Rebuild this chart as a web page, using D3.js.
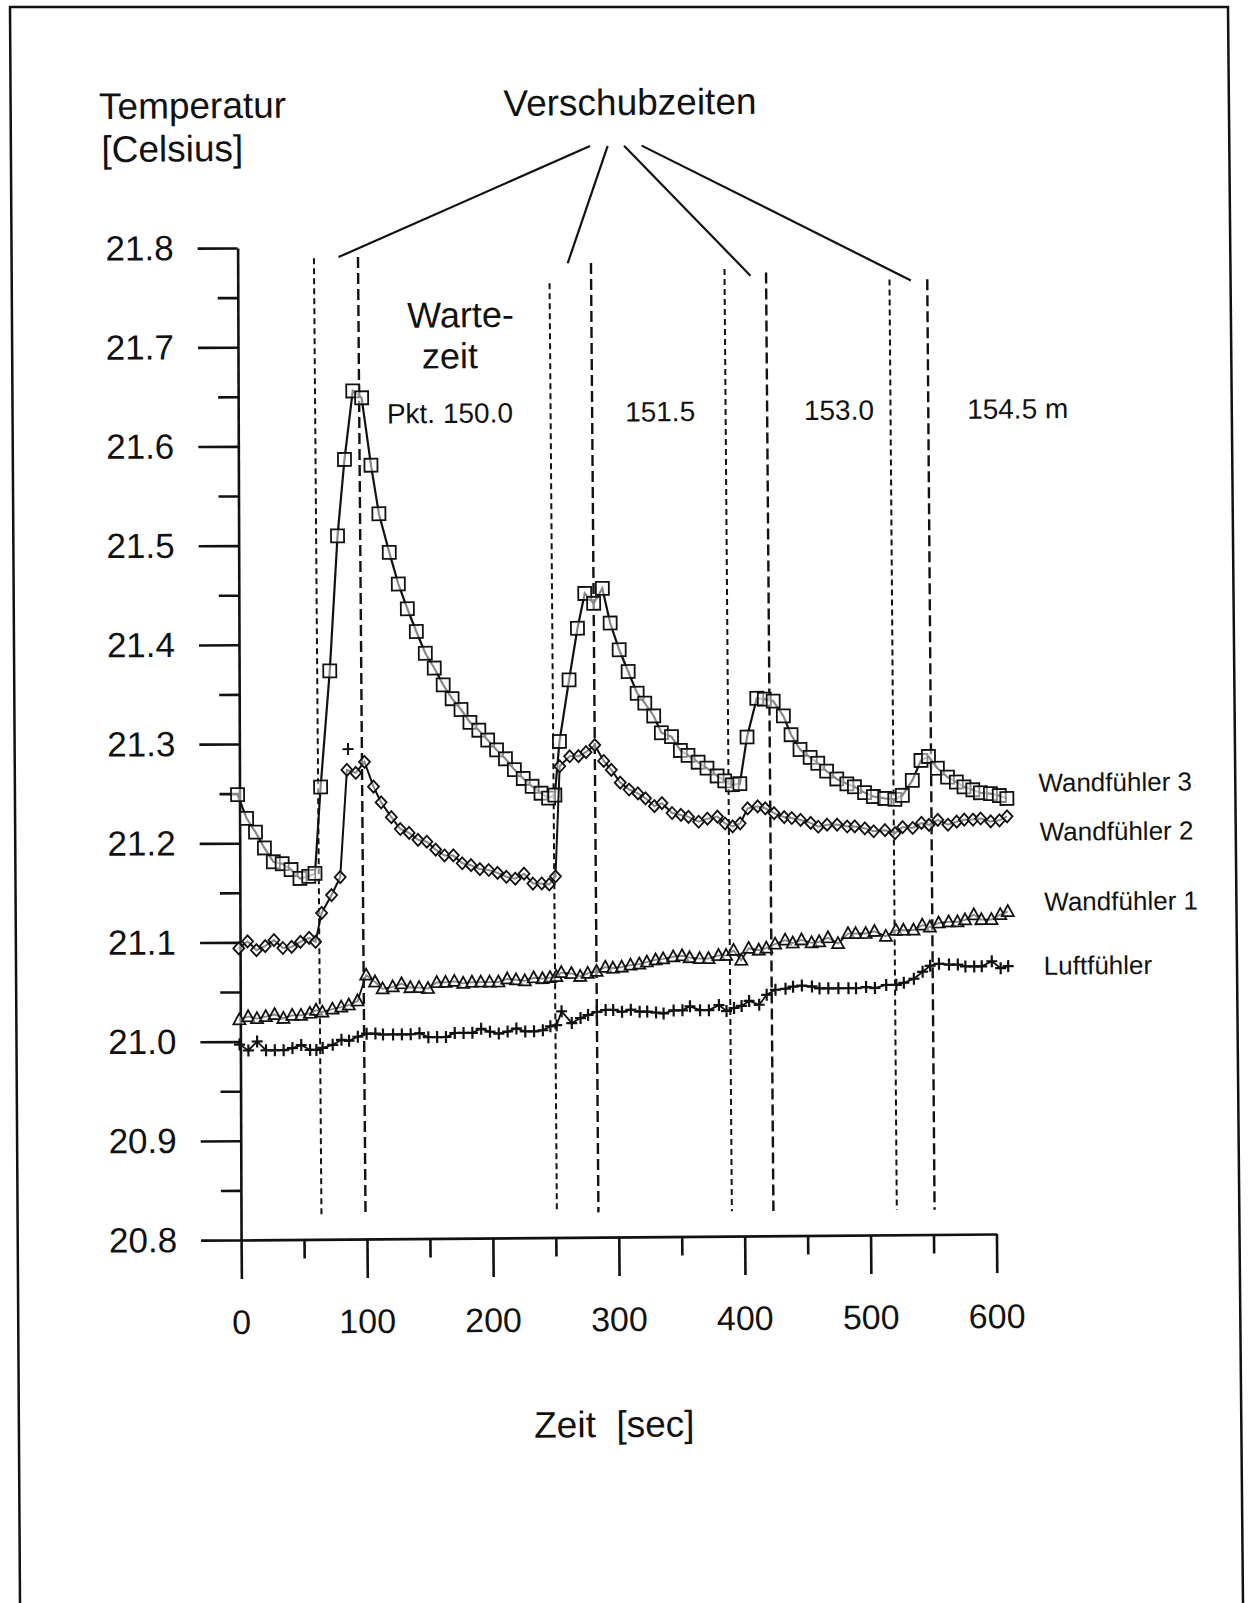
<!DOCTYPE html>
<html><head><meta charset="utf-8">
<script src="https://cdn.jsdelivr.net/npm/d3@7"></script>
<style>
body{margin:0;background:#fff}
svg{display:block}
text{font-family:"Liberation Sans",Arial,Helvetica,sans-serif;fill:#111}
</style>
</head><body>
<svg id="chart" width="1248" height="1603"></svg>
<script>
// ---- data (time in seconds, temperature in degrees Celsius) ----
const times = [0,7,14,21,28,35,42,49,56,61,66,74,81,87,94,101,108,114,122,129,136,143,150,157,164,171,178,185,192,199,206,213,220,227,234,241,247,252,256,264,271,277,284,291,297,304,311,318,324,331,337,345,352,358,366,373,381,387,393,399,405,413,419,426,434,440,447,455,461,468,476,484,490,498,505,514,522,528,536,543,549,556,564,571,577,584,590,598,605,611];

const wand3 = [21.249,21.225,21.211,21.195,21.181,21.179,21.173,21.164,21.166,21.169,21.256,21.373,21.509,21.586,21.655,21.648,21.580,21.531,21.492,21.460,21.435,21.412,21.390,21.375,21.358,21.344,21.333,21.320,21.312,21.302,21.292,21.283,21.272,21.263,21.255,21.248,21.243,21.246,21.300,21.362,21.414,21.449,21.439,21.454,21.419,21.392,21.370,21.348,21.338,21.325,21.308,21.304,21.290,21.285,21.278,21.272,21.264,21.259,21.255,21.256,21.303,21.342,21.341,21.339,21.324,21.305,21.290,21.282,21.276,21.268,21.260,21.255,21.252,21.246,21.242,21.240,21.239,21.243,21.258,21.278,21.282,21.270,21.261,21.256,21.251,21.248,21.245,21.244,21.242,21.239];

const wand2 = [21.094,21.101,21.092,21.096,21.102,21.094,21.095,21.100,21.104,21.100,21.129,21.147,21.165,21.273,21.270,21.281,21.256,21.240,21.225,21.213,21.209,21.202,21.200,21.192,21.186,21.186,21.178,21.176,21.172,21.171,21.168,21.164,21.162,21.167,21.157,21.157,21.156,21.164,21.275,21.285,21.285,21.289,21.296,21.280,21.271,21.258,21.251,21.247,21.242,21.234,21.237,21.227,21.225,21.223,21.218,21.221,21.223,21.216,21.213,21.216,21.231,21.233,21.231,21.226,21.222,21.221,21.219,21.216,21.212,21.214,21.214,21.212,21.212,21.210,21.207,21.208,21.205,21.211,21.210,21.215,21.213,21.218,21.213,21.216,21.218,21.218,21.219,21.216,21.217,21.221];

const wand1 = [21.022,21.025,21.023,21.025,21.027,21.023,21.026,21.026,21.028,21.031,21.029,21.032,21.034,21.036,21.040,21.066,21.059,21.052,21.054,21.057,21.053,21.053,21.052,21.058,21.058,21.059,21.057,21.058,21.058,21.058,21.058,21.061,21.060,21.059,21.062,21.061,21.062,21.063,21.067,21.066,21.063,21.066,21.068,21.072,21.071,21.072,21.074,21.075,21.077,21.079,21.080,21.082,21.083,21.081,21.080,21.080,21.083,21.083,21.088,21.078,21.090,21.088,21.090,21.094,21.098,21.095,21.098,21.095,21.096,21.100,21.094,21.104,21.104,21.104,21.106,21.101,21.107,21.107,21.107,21.112,21.110,21.114,21.115,21.115,21.117,21.122,21.117,21.117,21.122,21.125];

const luft = [20.997,20.991,21.000,20.991,20.991,20.991,20.993,20.996,20.991,20.991,20.993,20.996,21.001,21.000,21.004,21.007,21.007,21.006,21.006,21.006,21.006,21.007,21.003,21.003,21.003,21.007,21.007,21.007,21.011,21.008,21.006,21.008,21.011,21.008,21.008,21.009,21.013,21.014,21.028,21.016,21.021,21.024,21.027,21.029,21.029,21.027,21.029,21.027,21.027,21.026,21.025,21.028,21.028,21.032,21.028,21.028,21.033,21.027,21.030,21.032,21.037,21.033,21.043,21.048,21.049,21.051,21.052,21.051,21.049,21.049,21.049,21.049,21.049,21.050,21.049,21.052,21.052,21.054,21.058,21.065,21.071,21.073,21.072,21.072,21.070,21.070,21.070,21.075,21.068,21.070];

// isolated "+" marker above the second sensor's first peak
const strayPlusTime = [88];
const strayPlusValue = [21.294];

// axis ticks
const yMajor = [20.8,20.9,21.0,21.1,21.2,21.3,21.4,21.5,21.6,21.7,21.8];
const yMajorLabels = ["20.8","20.9","21.0","21.1","21.2","21.3","21.4","21.5","21.6","21.7","21.8"];
const yMinor = [20.85,20.95,21.05,21.15,21.25,21.35,21.45,21.55,21.65,21.75];
const xMajor = [0,100,200,300,400,500,600];
const xMajorLabels = ["0","100","200","300","400","500","600"];
const xMinor = [50,150,250,350,450,550];

// shift times (dashed lines): start ("a") and end ("b") of each shift
const shiftStart = [64,251,390,521];
const shiftEnd = [99,284,423,551];
const shiftStartTop = [21.789,21.762,21.775,21.763];
const shiftEndTop = [21.790,21.782,21.771,21.763];
const shiftBottom = 20.825;

// leader lines from "Verschubzeiten"
const leaderFromTime = [284,298,311,325];
const leaderFromValue = 21.9;
const leaderToTime = [83.5,265.5,410.6,538];
const leaderToValue = [21.790,21.782,21.768,21.762];

// point labels
const pointLabels = ["Pkt. 150.0","151.5","153.0","154.5 m"];
const pointLabelTime = [171,338,480,622];
const pointLabelValue = 21.622;

const seriesNames = ["Wandfühler 3","Wandfühler 2","Wandfühler 1","Luftfühler"];

// ---- drawing ----
const svg = d3.select("#chart");
svg.append("rect").attr("width",1248).attr("height",1603).attr("fill","#fff");

// page frame (scanned, slightly skewed)
svg.append("path")
  .attr("d","M20,1603 L10,7 L1228,7 L1243,1603")
  .attr("fill","none").attr("stroke","#111").attr("stroke-width",2.5);

const g = svg.append("g").attr("transform","rotate(-0.45,620,745)");

const x = d3.scaleLinear().domain([0,600]).range([237.2,992.6]);
const y = d3.scaleLinear().domain([20.8,21.8]).range([1237,245]);

// y axis (scanned less skewed than the rest: counter-rotate about the origin)
const gy = g.append("g").attr("transform",`rotate(0.25,${x(0)},${y(20.8)})`);
gy.append("g").attr("transform",`translate(${x(0)},0)`)
  .call(d3.axisLeft(y).tickValues(yMajor).tickSize(40).tickSizeOuter(0).tickFormat(""))
  .call(a=>{a.selectAll("path,line").attr("stroke","#111").attr("stroke-width",2.6);});
gy.append("g").attr("transform",`translate(${x(0)},0)`)
  .call(d3.axisLeft(y).tickValues(yMinor).tickSize(20).tickSizeOuter(0).tickFormat(""))
  .call(a=>{a.select(".domain").remove();a.selectAll("line").attr("stroke","#111").attr("stroke-width",2.6);});
gy.selectAll(".ylab").data(yMajor).join("text")
  .attr("class","ylab")
  .attr("x",x(0)-64).attr("y",d=>y(d)+12)
  .attr("text-anchor","end").attr("font-size",35)
  .text((d,i)=>yMajorLabels[i]);

// x axis
g.append("g").attr("transform",`translate(0,${y(20.8)})`)
  .call(d3.axisBottom(x).tickValues(xMajor).tickSize(39).tickSizeOuter(0).tickFormat(""))
  .call(a=>{a.selectAll("path,line").attr("stroke","#111").attr("stroke-width",2.6);});
g.append("g").attr("transform",`translate(0,${y(20.8)})`)
  .call(d3.axisBottom(x).tickValues(xMinor).tickSize(19).tickSizeOuter(0).tickFormat(""))
  .call(a=>{a.select(".domain").remove();a.selectAll("line").attr("stroke","#111").attr("stroke-width",2.6);});
g.selectAll(".xlab").data(xMajor).join("text")
  .attr("class","xlab")
  .attr("x",d=>x(d)).attr("y",1331)
  .attr("text-anchor","middle").attr("font-size",34)
  .text((d,i)=>xMajorLabels[i]);

// titles
g.append("text").attr("x",104).attr("y",115).attr("font-size",37).text("Temperatur");
g.append("text").attr("x",106).attr("y",158).attr("font-size",37).text("[Celsius]");
g.append("text").attr("x",635).attr("y",115).attr("font-size",37).attr("text-anchor","middle").text("Verschubzeiten");
g.append("text").attr("x",464).attr("y",326).attr("font-size",36).attr("text-anchor","middle").text("Warte-");
g.append("text").attr("x",453).attr("y",367).attr("font-size",36).attr("text-anchor","middle").text("zeit");
g.append("text").attr("x",609).attr("y",1437).attr("font-size",37).attr("text-anchor","middle")
  .attr("xml:space","preserve").text("Zeit  [sec]");

// point labels
g.selectAll(".plab").data(pointLabels).join("text")
  .attr("class","plab")
  .attr("x",(d,i)=>x(pointLabelTime[i])).attr("y",y(pointLabelValue))
  .attr("text-anchor","middle").attr("font-size",28)
  .text(d=>d);

// dashed shift lines
g.selectAll(".shiftA").data(shiftStart).join("line")
  .attr("class","shiftA")
  .attr("x1",d=>x(d)).attr("x2",d=>x(d))
  .attr("y1",(d,i)=>y(shiftStartTop[i])).attr("y2",y(shiftBottom))
  .attr("stroke","#111").attr("stroke-width",2).attr("stroke-dasharray","6,4");
g.selectAll(".shiftB").data(shiftEnd).join("line")
  .attr("class","shiftB")
  .attr("x1",d=>x(d)).attr("x2",d=>x(d))
  .attr("y1",(d,i)=>y(shiftEndTop[i])).attr("y2",y(shiftBottom))
  .attr("stroke","#111").attr("stroke-width",2.4).attr("stroke-dasharray","11,5");

// leader lines
g.selectAll(".leader").data(leaderFromTime).join("line")
  .attr("class","leader")
  .attr("x1",d=>x(d)).attr("y1",y(leaderFromValue))
  .attr("x2",(d,i)=>x(leaderToTime[i])).attr("y2",(d,i)=>y(leaderToValue[i]))
  .attr("stroke","#111").attr("stroke-width",2.2);

// series
const series = [
  {name:seriesNames[0], values:wand3, marker:"square", lw:2.2},
  {name:seriesNames[1], values:wand2, marker:"diamond", lw:2},
  {name:seriesNames[2], values:wand1, marker:"triangle", lw:1.8},
  {name:seriesNames[3], values:luft, marker:"plus", lw:1.8}
];
const line = d3.line().x(d=>x(d[0])).y(d=>y(d[1]));
const markerPath = {
  square: "M-6.5,-6.5H6.5V6.5H-6.5Z",
  diamond: "M0,-6L5.5,0L0,6L-5.5,0Z",
  triangle: "M0,-6.5L6,4.5H-6Z",
  plus: "M-5.5,0H5.5M0,-6V6"
};
series.forEach(s=>{
  const pts = times.map((t,i)=>[t,s.values[i]]);
  g.append("path").datum(pts).attr("d",line)
    .attr("fill","none").attr("stroke","#111").attr("stroke-width",s.lw);
  g.append("g").selectAll("path").data(pts).join("path")
    .attr("transform",d=>`translate(${x(d[0])},${y(d[1])})`)
    .attr("d",markerPath[s.marker])
    .attr("fill","#fff")
    .attr("fill-opacity",s.marker==="plus"?0:0.5)
    .attr("stroke","#111").attr("stroke-width",s.marker==="plus"?2.2:1.8);
});
g.selectAll(".stray").data(strayPlusTime).join("path")
  .attr("class","stray")
  .attr("transform",(d,i)=>`translate(${x(d)},${y(strayPlusValue[i])})`)
  .attr("d",markerPath.plus).attr("fill","none").attr("stroke","#111").attr("stroke-width",2);

// series labels
const labelPos = [[1038,795],[1039,844],[1043,914],[1042,978]];
g.selectAll(".slab").data(seriesNames).join("text")
  .attr("class","slab")
  .attr("x",(d,i)=>labelPos[i][0]).attr("y",(d,i)=>labelPos[i][1])
  .attr("font-size",26)
  .text(d=>d);
</script>
</body></html>
